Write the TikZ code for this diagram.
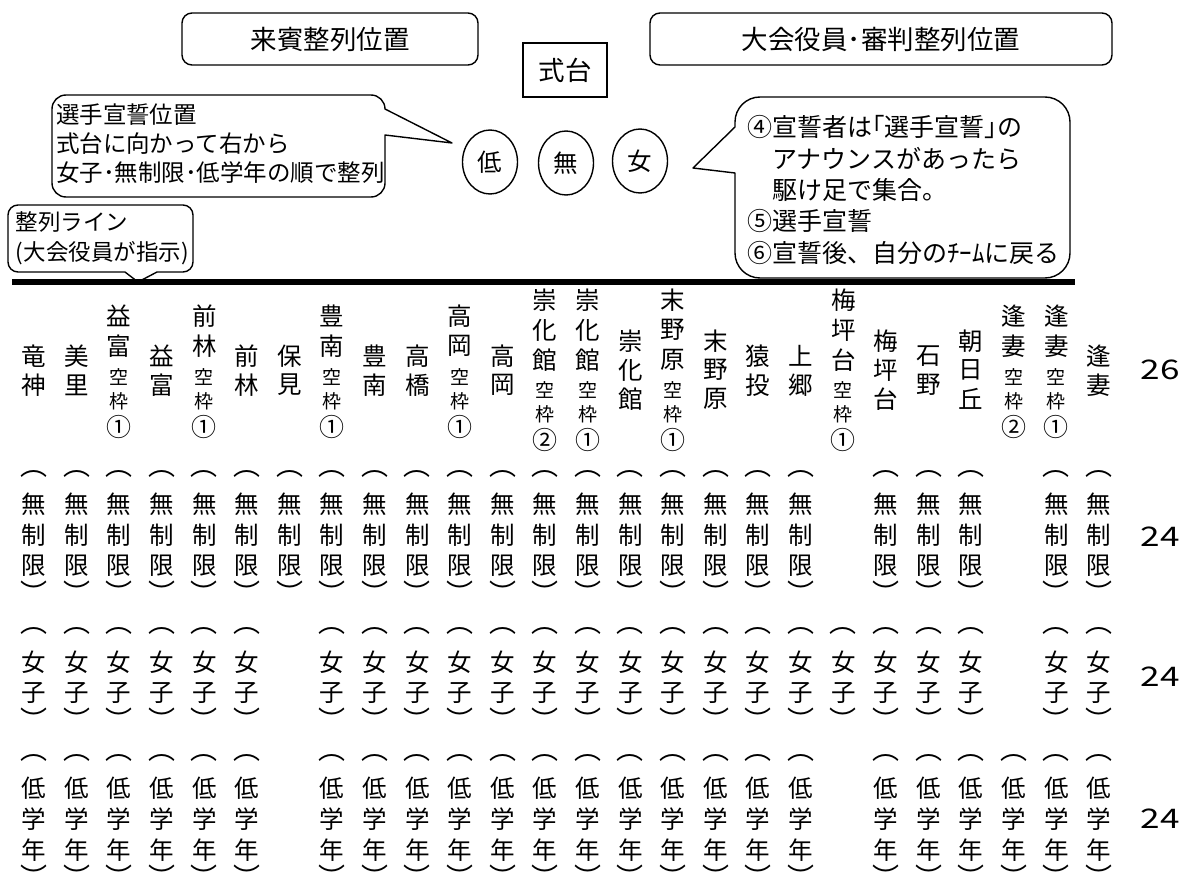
\documentclass[tikz,border=0pt]{standalone}
\usepackage{fontspec}
\setmainfont{Noto Sans CJK JP}
\newfontfamily\numfont[FakeStretch=1.3]{Noto Sans CJK JP}
\usetikzlibrary{shapes.geometric}
\newcommand\hx[1]{\pgfmathsetmacro\cx{34+42.6*#1}}
% two big characters
\newcommand\colA[3]{\hx{#1}%
 \node[nm] (h#1-1) at (\cx,356) {#2};
 \node[nm] (h#1-2) at (\cx,385) {#3};}
% three big characters
\newcommand\colB[4]{\hx{#1}%
 \node[nm] (h#1-1) at (\cx,341) {#2};
 \node[nm] (h#1-2) at (\cx,370) {#3};
 \node[nm] (h#1-3) at (\cx,399) {#4};}
% two big + 空枠 + circled number
\newcommand\colC[4]{\hx{#1}%
 \node[nm] (h#1-1) at (\cx,316) {#2};
 \node[nm] (h#1-2) at (\cx,346) {#3};
 \node[sm] (h#1-3) at (\cx,377) {空};
 \node[sm] (h#1-4) at (\cx,401) {枠};
 \node[cn] (h#1-5) at (\cx,427) {#4};}
% three big + 空枠 + circled number
\newcommand\colD[5]{\hx{#1}%
 \node[nm] (h#1-1) at (\cx,300) {#2};
 \node[nm] (h#1-2) at (\cx,330) {#3};
 \node[nm] (h#1-3) at (\cx,360) {#4};
 \node[sm] (h#1-4) at (\cx,390) {空};
 \node[sm] (h#1-5) at (\cx,414) {枠};
 \node[cn] (h#1-6) at (\cx,440) {#5};}
\begin{document}
\begin{tikzpicture}[x=1pt,y=-1pt,
  every node/.style={inner sep=0pt,outer sep=0pt},
  nm/.style={font=\fontsize{24.5}{24.5}\selectfont},
  sm/.style={font=\fontsize{19}{19}\selectfont},
  cn/.style={font=\fontsize{25}{25}\selectfont},
  rw/.style={font=\fontsize{24.5}{24.5}\selectfont},
  pr/.style={font=\fontsize{27}{27}\selectfont},
  num/.style={font=\numfont\fontsize{27}{27}\selectfont},
  boxtxt/.style={font=\fontsize{26.5}{30}\selectfont},
  rbox/.style={draw,line width=1.4pt,rounded corners=10pt},
  sbox/.style={draw,line width=1.4pt},
  callout/.style={draw,fill=white,line width=1.4pt,line join=round},
  seat/.style={draw,ellipse,line width=1.4pt,minimum width=55pt,minimum height=64pt,font=\fontsize{24.5}{24.5}\selectfont},
  ctxtL/.style={align=left,font=\fontsize{23.5}{29}\selectfont},
  ctxtR/.style={align=left,font=\fontsize{25}{31.3}\selectfont},
  ctxtS/.style={align=left,font=\fontsize{22.5}{30}\selectfont}]
\useasboundingbox (0,0) rectangle (1181,872);

% top boxes
\node[rbox,boxtxt,minimum width=296pt,minimum height=52pt] (guest) at (330,39) {来賓整列位置};
\node[rbox,boxtxt,minimum width=462pt,minimum height=52pt] (staff) at (881,39) {大会役員･審判整列位置};
\node[sbox,boxtxt,minimum width=84pt,minimum height=54pt] (podium) at (565,70) {式台};

% oath positions
\node[seat] (low) at (490,162) {低};
\node[seat] (free) at (566,163) {無};
\node[seat] (girl) at (640,161) {女};

% left callout
\draw[callout] (66,95) -- (371,95) arc[start angle=270,end angle=360,radius=14]
  -- (452,143) -- (385,135) -- (385,183) arc[start angle=0,end angle=90,radius=14]
  -- (66,197) arc[start angle=90,end angle=180,radius=14]
  -- (52,109) arc[start angle=180,end angle=270,radius=14] -- cycle;
\node[ctxtL,anchor=west] (oathpos) at (56,144) {選手宣誓位置\\式台に向かって右から\\女子･無制限･低学年の順で整列};

% right callout
\draw[callout] (760,97) -- (1045,97) arc[start angle=270,end angle=360,radius=25]
  -- (1070,253) arc[start angle=0,end angle=90,radius=25]
  -- (760,278) arc[start angle=90,end angle=180,radius=25]
  -- (735,173) -- (693,168) -- (735,127) -- (735,122) arc[start angle=180,end angle=270,radius=25] -- cycle;
\node[ctxtR,anchor=west] (steps) at (747,190) {④宣誓者は｢選手宣誓｣の\\　アナウンスがあったら\\　駆け足で集合。\\⑤選手宣誓\\⑥宣誓後、自分のﾁｰﾑに戻る};

% line callout
\draw[callout] (18,205) -- (183,205) arc[start angle=270,end angle=360,radius=10]
  -- (193,262) arc[start angle=0,end angle=90,radius=10]
  -- (157,272) -- (138,282) -- (125,272) -- (18,272) arc[start angle=90,end angle=180,radius=10]
  -- (8,215) arc[start angle=180,end angle=270,radius=10] -- cycle;
\node[ctxtS,anchor=west] (linenote) at (16,238) {整列ライン\\(大会役員が指示)};

% alignment line
\coordinate (lineL) at (12,282);
\coordinate (lineR) at (1075,282);
\draw[line width=6pt] (lineL) -- (lineR);

% team names
\colA{0}{竜}{神}
\colA{1}{美}{里}
\colC{2}{益}{富}{①}
\colA{3}{益}{富}
\colC{4}{前}{林}{①}
\colA{5}{前}{林}
\colA{6}{保}{見}
\colC{7}{豊}{南}{①}
\colA{8}{豊}{南}
\colA{9}{高}{橋}
\colC{10}{高}{岡}{①}
\colA{11}{高}{岡}
\colD{12}{崇}{化}{館}{②}
\colD{13}{崇}{化}{館}{①}
\colB{14}{崇}{化}{館}
\colD{15}{末}{野}{原}{①}
\colB{16}{末}{野}{原}
\colA{17}{猿}{投}
\colA{18}{上}{郷}
\colD{19}{梅}{坪}{台}{①}
\colB{20}{梅}{坪}{台}
\colA{21}{石}{野}
\colB{22}{朝}{日}{丘}
\colC{23}{逢}{妻}{②}
\colC{24}{逢}{妻}{①}
\colA{25}{逢}{妻}

% row: 無制限
\foreach \i in {0,...,18,20,21,22,24,25}{\hx{\i}
  \node[pr] (m\i-0) at (\cx,474) {︵};
  \node[rw] (m\i-1) at (\cx,504) {無};
  \node[rw] (m\i-2) at (\cx,535) {制};
  \node[rw] (m\i-3) at (\cx,566) {限};
  \node[pr] (m\i-4) at (\cx,592) {︶};}
% row: 女子
\foreach \i in {0,...,5,7,8,...,22,24,25}{\hx{\i}
  \node[pr] (g\i-0) at (\cx,631) {︵};
  \node[rw] (g\i-1) at (\cx,662) {女};
  \node[rw] (g\i-2) at (\cx,693) {子};
  \node[pr] (g\i-3) at (\cx,719) {︶};}
% row: 低学年
\foreach \i in {0,...,5,7,8,...,18,20,21,...,25}{\hx{\i}
  \node[pr] (l\i-0) at (\cx,758) {︵};
  \node[rw] (l\i-1) at (\cx,788) {低};
  \node[rw] (l\i-2) at (\cx,819) {学};
  \node[rw] (l\i-3) at (\cx,850) {年};
  \node[pr] (l\i-4) at (\cx,876) {︶};}

% counts
\node[num] (cnt0) at (1160,370) {26};
\node[num] (cnt1) at (1160,537) {24};
\node[num] (cnt2) at (1160,677) {24};
\node[num] (cnt3) at (1160,819) {24};
\end{tikzpicture}
\end{document}
